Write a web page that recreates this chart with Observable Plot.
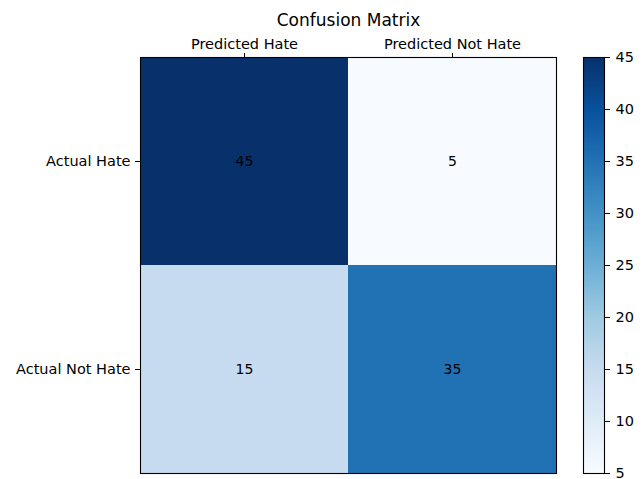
<!DOCTYPE html>
<html>
<head>
<meta charset="utf-8">
<script src="https://cdn.jsdelivr.net/npm/d3@7"></script>
<script src="https://cdn.jsdelivr.net/npm/@observablehq/plot@0.6"></script>
<style>
  html, body { margin: 0; padding: 0; background: white; }
  #wrap { position: relative; width: 644px; height: 479px; overflow: hidden; }
  #wrap svg { position: absolute; top: 0; }
</style>
</head>
<body>
<div id="wrap"></div>
<script>
const title = "Confusion Matrix";
const predicted = ["Predicted Hate", "Predicted Not Hate"];
const actual = ["Actual Hate", "Actual Not Hate"];
const counts = [[45, 5], [15, 35]];
const colorbarTicks = [5, 10, 15, 20, 25, 30, 35, 40, 45];
// matplotlib "Blues" colormap stops
const bluesStops = ["#f7fbff", "#deebf7", "#c6dbef", "#9ecae1", "#6baed6", "#4292c6", "#2171b5", "#08519c", "#08306b"];

const vmin = 5, vmax = 45;
const colorDomain = bluesStops.map((_, i) => vmin + (vmax - vmin) * i / (bluesStops.length - 1));
const colorScale = { type: "linear", domain: colorDomain, range: bluesStops, clamp: true };

const cells = actual.flatMap((a, i) => predicted.map((p, j) => ({ actual: a, predicted: p, count: counts[i][j] })));

const font = "'DejaVu Sans', sans-serif";

const main = Plot.plot({
  width: 644, height: 479,
  marginLeft: 140, marginRight: 88, marginTop: 57, marginBottom: 6,
  style: { fontFamily: font, fontSize: "14.5px", background: "transparent", color: "black" },
  x: { domain: predicted, axis: "top", padding: 0, tickSize: 5, tickPadding: 4, label: null },
  y: { domain: actual, padding: 0, tickSize: 5, tickPadding: 5, label: null },
  color: colorScale,
  marks: [
    Plot.cell(cells, { x: "predicted", y: "actual", fill: "count" }),
    Plot.text(cells, { x: "predicted", y: "actual", text: "count", fill: "black", fontSize: 14 }),
    Plot.frame({ stroke: "black", strokeWidth: 1.1 }),
    Plot.text([title], { frameAnchor: "top", dy: -32, lineAnchor: "bottom", fontSize: 17, fill: "black" })
  ]
});
main.style.left = "0px";

const step = 0.1;
const grad = d3.range(vmin, vmax, step).map(v => ({ v0: v, v1: v + step }));

const cbar = Plot.plot({
  width: 61, height: 479,
  marginLeft: 0, marginRight: 40, marginTop: 57, marginBottom: 6,
  style: { fontFamily: font, fontSize: "14.5px", background: "transparent", color: "black", overflow: "visible" },
  x: { domain: [0, 1], axis: null },
  y: { domain: [vmin, vmax], axis: "right", ticks: colorbarTicks, tickSize: 5, tickPadding: 6, tickFormat: d => String(d), label: null },
  color: colorScale,
  marks: [
    Plot.rect(grad, { x1: 0, x2: 1, y1: "v0", y2: "v1", fill: "v0", shapeRendering: "crispEdges" }),
    Plot.frame({ stroke: "black", strokeWidth: 1.1 })
  ]
});
cbar.style.left = "583px";

const wrap = document.getElementById("wrap");
wrap.appendChild(main);
wrap.appendChild(cbar);
</script>
</body>
</html>
